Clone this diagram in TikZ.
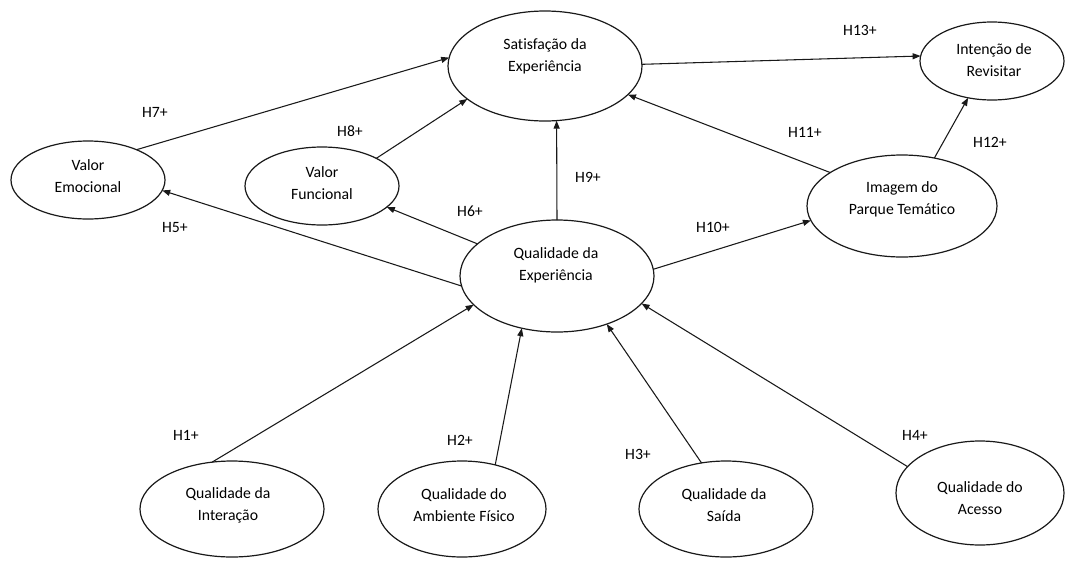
\documentclass[tikz,border=0pt]{standalone}
\usepackage{fontspec}
\setmainfont{Carlito}[Ligatures=NoCommon]
\usetikzlibrary{shapes.geometric,arrows.meta}
\begin{document}
\begin{tikzpicture}[x=0.75pt,y=-0.75pt,
  ell/.style={draw=black!90, line width=0.9pt, ellipse, inner sep=0pt, outer sep=0pt},
  txt/.style={align=center, font=\fontsize{11.8}{16.5}\selectfont, inner sep=0pt},
  hyp/.style={font=\fontsize{11.8}{13}\selectfont, inner sep=0pt},
  link/.style={line width=0.8pt, draw=black!90, -{Triangle[length=6pt,width=4.5pt]}},
]
\useasboundingbox (0,0) rectangle (1067,561);

% constructs
\node[ell, minimum width=145.5pt, minimum height=82.5pt] (sat) at (545,66) {};
\node[txt] (satT) at (545,56) {Satisfação da\\Experiência};

\node[ell, minimum width=108pt, minimum height=58.5pt] (int) at (992,61) {};
\node[txt] (intT) at (994,60) {Intenção de\\Revisitar};

\node[ell, minimum width=115.5pt, minimum height=58.5pt] (emo) at (88,180) {};
\node[txt] (emoT) at (88,176) {Valor\\Emocional};

\node[ell, minimum width=115.5pt, minimum height=58.5pt] (fun) at (322,186) {};
\node[txt] (funT) at (322,183) {Valor\\Funcional};

\node[ell, minimum width=142.5pt, minimum height=76.5pt] (img) at (902,206) {};
\node[txt] (imgT) at (902,199) {Imagem do\\Parque Temático};

\node[ell, minimum width=145.5pt, minimum height=84pt] (qexp) at (557,276) {};
\node[txt] (qexpT) at (556,265) {Qualidade da\\Experiência};

\node[ell, minimum width=138pt, minimum height=72pt] (qint) at (232,509) {};
\node[txt] (qintT) at (228,505) {Qualidade da\\Interação};

\node[ell, minimum width=126pt, minimum height=72pt] (qamb) at (462,509) {};
\node[txt] (qambT) at (464,505) {Qualidade do\\Ambiente Físico};

\node[ell, minimum width=130.5pt, minimum height=72pt] (qsai) at (726,509) {};
\node[txt] (qsaiT) at (724,505) {Qualidade da\\Saída};

\node[ell, minimum width=126pt, minimum height=78pt] (qace) at (980,493) {};
\node[txt] (qaceT) at (980,498) {Qualidade do\\Acesso};

% hypotheses
\draw[link] (sat.1.75)  -- (int.176.8);
\draw[link] (emo.32.4)  -- (sat.175.3);
\draw[link] (fun.27.4)  -- (sat.203.4);
\draw[link] (qexp.90)   -- (sat.282.3);
\draw[link] (img.155.3) -- (sat.341.9);
\draw[link] (img.56)    -- (int.237.7);
\draw[link] (qexp.158.6) -- (fun.342.1);
\draw[link] (qexp.186.7) -- (emo.352.6);
\draw[link] (qexp.4.7)  -- (img.189.7);
\draw[link] (qint.113)  -- (qexp.199.5);
\draw[link] (qamb.53.3) -- (qexp.236.3);
\draw[link] (qsai.118.5) -- (qexp.316.5);
\draw[link] (qace.160)  -- (qexp.342.9);

% hypothesis labels
\node[hyp] (h13) at (860,30)  {H13+};
\node[hyp] (h7)  at (155,112) {H7+};
\node[hyp] (h8)  at (350,131) {H8+};
\node[hyp] (h11) at (805,132) {H11+};
\node[hyp] (h12) at (990,142) {H12+};
\node[hyp] (h9)  at (588,177) {H9+};
\node[hyp] (h6)  at (470,211) {H6+};
\node[hyp] (h5)  at (175,228) {H5+};
\node[hyp] (h10) at (713,227) {H10+};
\node[hyp] (h1)  at (186,435) {H1+};
\node[hyp] (h2)  at (460,440) {H2+};
\node[hyp] (h3)  at (638,454) {H3+};
\node[hyp] (h4)  at (915,435) {H4+};
\end{tikzpicture}
\end{document}
